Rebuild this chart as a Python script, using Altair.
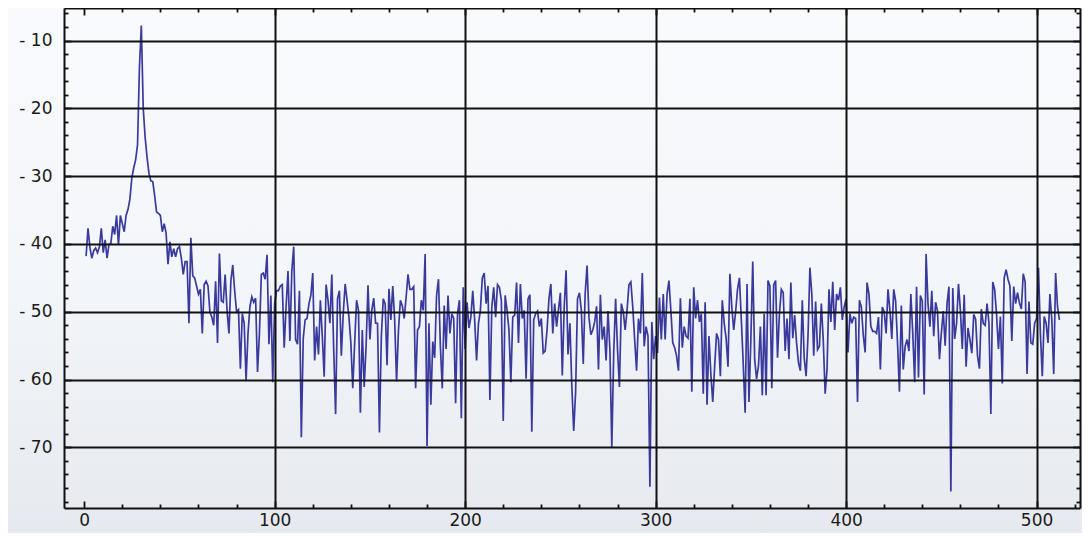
import altair as alt
import pandas as pd

# ---------------- data ----------------
freq_bin = list(range(1, 513))
magnitude_db = [
    -41.8, -37.7, -40.5, -42.1, -41.0, -40.6, -41.3, -40.4, -37.7, -41.3,
    -39.4, -42.1, -40.1, -39.9, -37.4, -38.6, -35.8, -40.1, -35.8, -37.0,
    -38.2, -35.8, -34.9, -33.4, -30.3, -28.8, -27.6, -25.4, -14.0, -7.8,
    -20.0, -24.3, -27.2, -29.6, -30.7, -30.8, -32.9, -35.3, -35.5, -35.8,
    -38.2, -37.0, -38.4, -43.0, -39.7, -41.9, -40.7, -41.9, -40.7, -40.4,
    -42.1, -44.5, -42.6, -42.6, -51.7, -39.1, -44.7, -45.0, -46.2, -47.4,
    -46.7, -53.2, -46.0, -45.5, -46.2, -50.0, -50.8, -52.0, -45.5, -54.6,
    -41.4, -48.4, -48.6, -44.5, -49.8, -53.2, -45.5, -43.1, -46.9, -50.0,
    -49.7, -58.4, -50.3, -51.7, -60.1, -53.2, -49.3, -47.8, -48.6, -48.0,
    -58.9, -53.2, -44.5, -44.3, -45.2, -41.6, -54.8, -47.6, -60.4, -48.8,
    -46.9, -46.9, -46.2, -46.0, -55.3, -49.3, -44.0, -54.3, -44.0, -40.4,
    -54.1, -54.8, -46.9, -68.5, -53.9, -51.2, -51.0, -48.8, -47.6, -44.3,
    -57.2, -52.2, -56.3, -48.3, -53.6, -59.6, -46.0, -48.3, -51.7, -44.5,
    -55.6, -65.1, -48.1, -46.9, -56.5, -50.3, -45.9, -48.3, -50.8, -54.6,
    -61.3, -54.6, -48.3, -49.8, -64.9, -52.7, -61.1, -55.1, -46.1, -54.1,
    -49.8, -48.0, -51.7, -51.7, -67.8, -53.6, -48.1, -48.8, -57.9, -46.6,
    -51.2, -46.2, -51.2, -60.3, -52.7, -48.3, -49.1, -51.0, -47.9, -44.5,
    -46.7, -46.7, -46.3, -61.3, -52.7, -52.2, -48.3, -49.8, -41.5, -69.8,
    -51.7, -63.7, -54.4, -56.8, -47.6, -45.2, -55.1, -61.3, -49.1, -55.5,
    -47.6, -53.2, -50.3, -51.0, -63.5, -50.3, -48.3, -65.7, -46.4, -55.5,
    -48.6, -52.4, -50.8, -46.9, -51.2, -57.2, -51.7, -49.8, -45.0, -44.3,
    -48.8, -46.2, -63.0, -49.3, -46.4, -50.8, -46.0, -46.4, -48.3, -66.1,
    -47.6, -49.8, -52.7, -60.4, -50.8, -50.5, -45.7, -54.6, -45.9, -51.0,
    -49.8, -59.9, -48.1, -47.5, -67.7, -51.2, -50.3, -49.9, -52.2, -51.0,
    -56.1, -55.8, -52.7, -48.1, -45.9, -53.2, -48.8, -52.2, -49.7, -47.2,
    -59.4, -49.3, -43.9, -56.3, -51.7, -60.9, -67.6, -61.8, -48.1, -47.2,
    -49.8, -57.7, -47.4, -43.2, -50.8, -53.4, -52.7, -51.5, -49.2, -58.5,
    -47.5, -54.1, -52.2, -57.2, -49.9, -55.6, -70.0, -56.0, -48.1, -55.6,
    -61.1, -48.8, -50.0, -52.7, -49.8, -46.0, -45.6, -49.3, -54.1, -58.7,
    -51.0, -53.2, -44.3, -55.1, -52.2, -53.6, -75.8, -51.5, -57.0, -53.6,
    -56.1, -47.9, -54.1, -47.4, -54.1, -47.4, -45.4, -49.8, -54.6, -55.3,
    -56.5, -58.7, -48.0, -55.3, -52.2, -53.6, -53.9, -48.1, -61.8, -46.4,
    -51.0, -48.3, -51.5, -50.3, -62.1, -48.6, -63.7, -53.6, -59.2, -63.3,
    -58.0, -53.2, -54.1, -59.5, -48.3, -51.7, -53.9, -58.1, -44.4, -49.3,
    -52.7, -50.0, -46.7, -45.0, -51.2, -57.7, -64.9, -45.9, -63.3, -54.1,
    -42.6, -57.0, -59.9, -58.0, -52.2, -62.3, -50.3, -62.3, -45.4, -46.2,
    -61.3, -46.0, -45.4, -56.8, -50.3, -46.7, -47.2, -55.8, -51.0, -57.0,
    -45.7, -53.9, -50.5, -54.6, -57.5, -58.7, -48.3, -56.8, -59.5, -53.6,
    -43.5, -47.4, -56.5, -48.5, -55.6, -55.1, -48.8, -54.1, -62.1, -58.5,
    -46.7, -51.5, -45.6, -52.7, -47.4, -48.3, -46.4, -51.2, -49.3, -48.1,
    -56.0, -50.3, -51.7, -50.8, -51.0, -63.3, -48.3, -49.3, -53.4, -56.0,
    -45.7, -47.4, -52.2, -52.9, -52.9, -53.2, -50.8, -58.5, -49.3, -50.0,
    -53.2, -46.7, -49.8, -54.0, -46.7, -48.4, -54.6, -61.8, -49.1, -58.5,
    -55.1, -54.1, -55.8, -47.4, -53.2, -60.4, -46.3, -59.7, -47.6, -48.4,
    -62.2, -41.5, -48.8, -52.2, -46.9, -53.6, -48.6, -49.9, -57.0, -53.2,
    -49.9, -55.0, -48.8, -46.3, -76.5, -46.5, -54.0, -51.7, -45.9, -49.8,
    -55.5, -47.5, -58.1, -52.4, -54.1, -56.1, -50.4, -51.1, -56.5, -58.4,
    -49.6, -51.7, -52.0, -48.8, -51.7, -65.1, -45.6, -46.7, -50.5, -55.5,
    -50.7, -60.6, -45.0, -43.8, -45.2, -46.2, -54.3, -46.3, -48.8, -47.2,
    -48.7, -49.6, -44.4, -45.6, -59.2, -48.5, -54.6, -54.8, -51.7, -51.0,
    -43.5, -53.2, -59.5, -50.7, -51.7, -54.6, -47.4, -51.2, -59.2, -44.3,
    -49.3, -51.2,
]

x_major_ticks = [0, 100, 200, 300, 400, 500]
x_minor_ticks = [20, 40, 60, 80, 120, 140, 160, 180, 220, 240, 260, 280,
                 320, 340, 360, 380, 420, 440, 460, 480, 520]
y_major_ticks = [-70, -60, -50, -40, -30, -20, -10]
y_minor_ticks = [-78, -76, -74, -72, -68, -66, -64, -62, -58, -56, -54, -52,
                 -48, -46, -44, -42, -38, -36, -34, -32, -28, -26, -24, -22,
                 -18, -16, -14, -12, -8, -6]

df = pd.DataFrame({"bin": freq_bin, "db": magnitude_db})

X_DOMAIN = [-10.6, 522.8]
Y_DOMAIN = [-78.95, -5.2]
W, H = 1016, 500
PAD = {"left": 56, "top": 0, "right": 2, "bottom": 25}

INK = "#111111"
FONT = "DejaVu Sans"


def make_axis(orient, values, size, labels=False, grid=False, domain=False,
              label_expr=None, label_padding=0, grid_test=None):
    kw = dict(orient=orient, values=values,
              tickSize=alt.ExprRef(expr=str(-size)),
              tickColor=INK, tickWidth=1.8, ticks=True,
              labels=labels, grid=grid, domain=domain, zindex=1,
              title=None)
    if domain:
        kw.update(domainColor=INK, domainWidth=2)
    if grid:
        kw.update(gridColor=INK, gridWidth=2)
        if grid_test:
            kw.update(gridOpacity={"condition": {"test": grid_test, "value": 1},
                                   "value": 0})
    if labels:
        kw.update(labelFont=FONT, labelFontSize=17, labelColor="#1a1a1a",
                  labelPadding=label_padding, labelFlush=False)
        if label_expr:
            kw.update(labelExpr=label_expr)
    return alt.Axis(**kw)


def xe(axis):
    return alt.X("bin:Q", scale=alt.Scale(domain=X_DOMAIN, nice=False, zero=False),
                 axis=axis)


def ye(axis):
    return alt.Y("db:Q", scale=alt.Scale(domain=Y_DOMAIN, nice=False, zero=False),
                 axis=axis)


bottom_major = make_axis("bottom", x_major_ticks, 7, labels=True, grid=True,
                         domain=True, label_padding=11,
                         grid_test="datum.value > 0")
left_major = make_axis("left", y_major_ticks, 7, labels=True, grid=True,
                       domain=True, label_padding=19,
                       label_expr="'- ' + abs(datum.value)")
bottom_minor = make_axis("bottom", x_minor_ticks, 4)
left_minor = make_axis("left", y_minor_ticks, 4)
top_major = make_axis("top", x_major_ticks, 7, domain=True)
right_major = make_axis("right", y_major_ticks, 7, domain=True)
top_minor = make_axis("top", x_minor_ticks, 4)
right_minor = make_axis("right", y_minor_ticks, 4)

gradient = alt.LinearGradient(
    gradient="linear",
    stops=[alt.GradientStop(color="#f9fafd", offset=0),
           alt.GradientStop(color="#f3f6fa", offset=0.5),
           alt.GradientStop(color="#e6eaf0", offset=1)],
    x1=0, x2=0, y1=0, y2=1,
)

bg = alt.Chart(pd.DataFrame({"k": [0]})).mark_rect(
    color=gradient, strokeWidth=0
).encode(
    x=alt.value(-PAD["left"]), x2=alt.value(W + PAD["right"]),
    y=alt.value(-PAD["top"]), y2=alt.value(H + PAD["bottom"]),
)

base = alt.Chart(df)

minor_layer = base.mark_line(strokeOpacity=0).encode(
    x=xe(bottom_minor), y=ye(left_minor))
mirror_major_layer = base.mark_line(strokeOpacity=0).encode(
    x=xe(top_major), y=ye(right_major))
mirror_minor_layer = base.mark_line(strokeOpacity=0).encode(
    x=xe(top_minor), y=ye(right_minor))

line = base.mark_line(color="#3a3a9c", strokeWidth=1.7).encode(
    x=xe(bottom_major), y=ye(left_major), order=alt.value(2))

chart = alt.layer(
    bg, minor_layer, mirror_major_layer, mirror_minor_layer, line
).resolve_axis(
    x="independent", y="independent"
).properties(
    width=W, height=H,
    autosize=alt.AutoSizeParams(type="none"),
    padding=PAD,
    background="#f0f3f8",
).configure_view(stroke="transparent")

chart.save("out.html", embed_options={"renderer": "svg", "actions": False})
